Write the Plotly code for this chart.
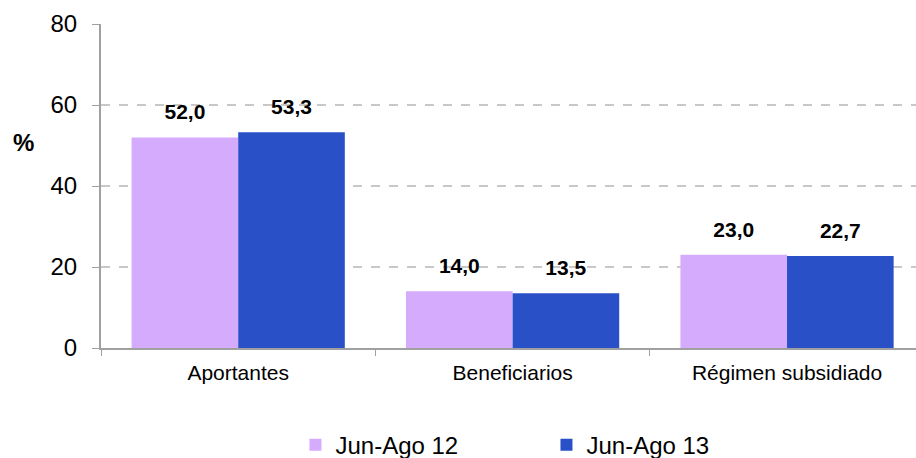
import plotly.graph_objects as go

categories = ["Aportantes", "Beneficiarios", "Régimen subsidiado"]
series_names = ["Jun-Ago 12", "Jun-Ago 13"]
values_12 = [52.0, 14.0, 23.0]
values_13 = [53.3, 13.5, 22.7]
y_ticks = [0, 20, 40, 60, 80]

colors = ["#D4ABFD", "#2A50C8"]
font_family = "Liberation Sans, Arial, sans-serif"

fig = go.Figure()
for name, vals, col in zip(series_names, [values_12, values_13], colors):
    fig.add_trace(go.Bar(
        x=categories, y=vals, name=name,
        marker=dict(color=col, line=dict(width=0)),
        texttemplate="<span style='font-size:21px'><b>%{y:.1f}</b></span><br> ",
        textposition="outside",
        textfont=dict(family=font_family, size=10, color="#000000"),
        cliponaxis=False,
    ))

fig.update_layout(
    width=916, height=458,
    margin=dict(l=101, r=0, t=24, b=110, autoexpand=False),
    paper_bgcolor="white", plot_bgcolor="white",
    separators=",.",
    barmode="group", bargap=0.223, bargroupgap=0,
    font=dict(family=font_family, color="#000000"),
    showlegend=True,
    legend=dict(orientation="h", x=0.2386, xanchor="left", y=-0.30, yanchor="middle",
                font=dict(size=24, family=font_family), itemwidth=30,
                traceorder="normal", entrywidth=206, tracegroupgap=0),
    annotations=[dict(text="<b>%</b>", xref="paper", yref="paper", x=-0.111, y=0.633,
                      showarrow=False, font=dict(size=24, family=font_family))],
)
fig.update_xaxes(
    range=[-0.5, 2.47], showline=True, linecolor="#A0A0A0", linewidth=2,
    ticks="outside", ticklen=6, tickcolor="#A0A0A0", tickson="boundaries",
    tickfont=dict(size=21, family=font_family, color="#000000"),
    ticklabelstandoff=5,
    showgrid=False,
)
fig.update_yaxes(
    range=[0, 80], tickvals=y_ticks, showline=True, linecolor="#A0A0A0", linewidth=2,
    ticks="outside", ticklen=7, tickcolor="#A0A0A0",
    tickfont=dict(size=24, family=font_family, color="#000000"),
    ticklabelstandoff=10,
    showgrid=True, gridcolor="#C8C8C8", griddash="dash", gridwidth=2,
    zeroline=False,
)

fig.write_html("out.html", config={"displayModeBar": False},
               post_script="document.body.style.margin='0';")
